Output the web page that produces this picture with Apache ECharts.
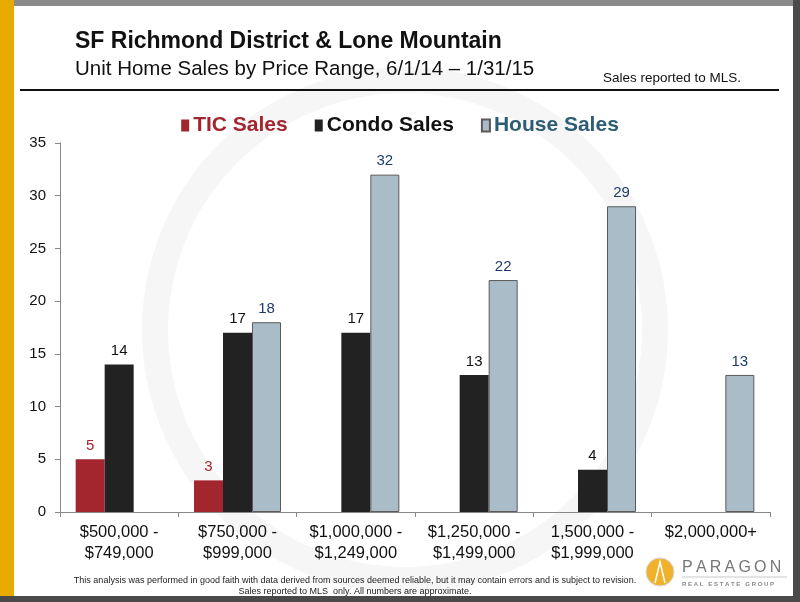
<!DOCTYPE html>
<html>
<head>
<meta charset="utf-8">
<script src="https://cdn.jsdelivr.net/npm/echarts@6/dist/echarts.min.js"></script>
<style>
  html, body { margin: 0; padding: 0; background: #fff; }
  #main { width: 800px; height: 602px; }
</style>
</head>
<body>
<div id="main"></div>
<script>
const categories = ['$500,000 -\n$749,000', '$750,000 -\n$999,000', '$1,000,000 -\n$1,249,000',
  '$1,250,000 -\n$1,499,000', '1,500,000 -\n$1,999,000', '$2,000,000+']
const ticSales = [5, 3, null, null, null, null]
const condoSales = [14, 17, 17, 13, 4, null]
const houseSales = [null, 18, 32, 22, 29, 13]

const chart = echarts.init(document.getElementById('main'))

const labelFont = 'Liberation Sans, Arial, sans-serif'

let option = {
  backgroundColor: '#fff',
  animation: false,
  title: [
    {
      text: 'SF Richmond District & Lone Mountain',
      left: 70, top: 25,
      textStyle: { fontFamily: labelFont, fontSize: 23, fontWeight: 'bold', color: '#111' }
    },
    {
      text: 'Unit Home Sales by Price Range, 6/1/14 – 1/31/15',
      left: 70, top: 54,
      textStyle: { fontFamily: labelFont, fontSize: 20.5, fontWeight: 'normal', color: '#111' }
    },
    {
      text: 'Sales reported to MLS.',
      left: 598, top: 66,
      textStyle: { fontFamily: labelFont, fontSize: 13.5, fontWeight: 'normal', color: '#111' }
    },
    {
      text: 'This analysis was performed in good faith with data derived from sources deemed reliable, but it may contain errors and is subject to revision.\nSales reported to MLS  only. All numbers are approximate.',
      left: 350, top: 570, textAlign: 'center',
      textStyle: { fontFamily: 'Liberation Sans Narrow, Arial Narrow, sans-serif', fontSize: 9, fontWeight: 'normal', color: '#222', lineHeight: 11, align: 'center' }
    }
  ],
  legend: {
    top: 110,
    left: 'center',
    icon: 'rect',
    itemWidth: 8, itemHeight: 12,
    itemGap: 27,
    textStyle: { fontFamily: labelFont, fontSize: 21, fontWeight: 'bold', padding: [0, 0, 0, -1] },
    data: [
      { name: 'TIC Sales', textStyle: { color: '#a3262f' } },
      { name: 'Condo Sales', textStyle: { color: '#111' } },
      { name: 'House Sales', textStyle: { color: '#2d5d74' } }
    ]
  },
  grid: { left: 60, right: 30, top: 143, bottom: 90 },
  xAxis: {
    type: 'category',
    data: categories,
    axisLine: { lineStyle: { color: '#888' } },
    axisTick: { show: true, length: 5, lineStyle: { color: '#888' } },
    axisLabel: { interval: 0, fontFamily: labelFont, fontSize: 16.5, color: '#111', lineHeight: 21, margin: 10 }
  },
  yAxis: {
    type: 'value',
    min: 0, max: 35, interval: 5,
    splitLine: { show: false },
    axisLine: { show: true, lineStyle: { color: '#888' } },
    axisTick: { show: true, length: 5, lineStyle: { color: '#888' } },
    axisLabel: { fontFamily: labelFont, fontSize: 15, color: '#111', margin: 14 }
  },
  series: [
    {
      name: 'TIC Sales', type: 'bar', data: ticSales,
      barWidth: 29, barGap: '0%', barCategoryGap: '26%',
      itemStyle: { color: '#a3262f' },
      label: { show: true, position: 'top', fontFamily: labelFont, fontSize: 15, color: '#a3262f', distance: 6 }
    },
    {
      name: 'Condo Sales', type: 'bar', data: condoSales,
      barWidth: 29,
      itemStyle: { color: '#222222' },
      label: { show: true, position: 'top', fontFamily: labelFont, fontSize: 15, color: '#111', distance: 6 }
    },
    {
      name: 'House Sales', type: 'bar', data: houseSales,
      barWidth: 29,
      itemStyle: { color: '#a9bcc8', borderColor: '#5a5a5a', borderWidth: 1 },
      label: { show: true, position: 'top', fontFamily: labelFont, fontSize: 15, color: '#1f3a6e', distance: 6 }
    }
  ],
  graphic: [
    // faint watermark
    { type: 'circle', z: -10, silent: true, shape: { cx: 405, cy: 330, r: 250 }, style: { fill: 'none', stroke: '#f6f6f6', lineWidth: 26 } },
    // frame
    { type: 'rect', shape: { x: 0, y: 0, width: 800, height: 6 }, style: { fill: '#8a8a8a' } },
    { type: 'rect', shape: { x: 0, y: 0, width: 14, height: 602 }, style: { fill: '#e8ac00' } },
    { type: 'rect', shape: { x: 793, y: 0, width: 7, height: 602 }, style: { fill: '#4a4a4a' } },
    { type: 'rect', shape: { x: 0, y: 596, width: 800, height: 6 }, style: { fill: '#4a4a4a' } },
    // rule under title
    { type: 'line', shape: { x1: 20, y1: 90, x2: 779, y2: 90 }, style: { stroke: '#111', lineWidth: 2 } },
    // logo
    { type: 'circle', shape: { cx: 660, cy: 572, r: 14 }, style: { fill: '#f0b12c', stroke: '#d9d9d9', lineWidth: 1 } },
    { type: 'polyline', shape: { points: [[655, 583], [660, 562], [665, 583]] }, style: { stroke: '#fff', lineWidth: 1.5, fill: 'none' } },
    { type: 'text', left: 682, top: 560, style: { text: 'P\u2009A\u2009R\u2009A\u2009G\u2009O\u2009N', fill: '#777', font: '16px Liberation Sans, Arial, sans-serif' } },
    { type: 'line', shape: { x1: 682, y1: 577, x2: 787, y2: 577 }, style: { stroke: '#c8c8c8', lineWidth: 1 } },
    { type: 'text', left: 682, top: 581, style: { text: 'R E A L   E S T A T E   G R O U P', fill: '#888', font: 'bold 6px Liberation Sans, Arial, sans-serif' } }
  ]
}

chart.setOption(option)
</script>
</body>
</html>
